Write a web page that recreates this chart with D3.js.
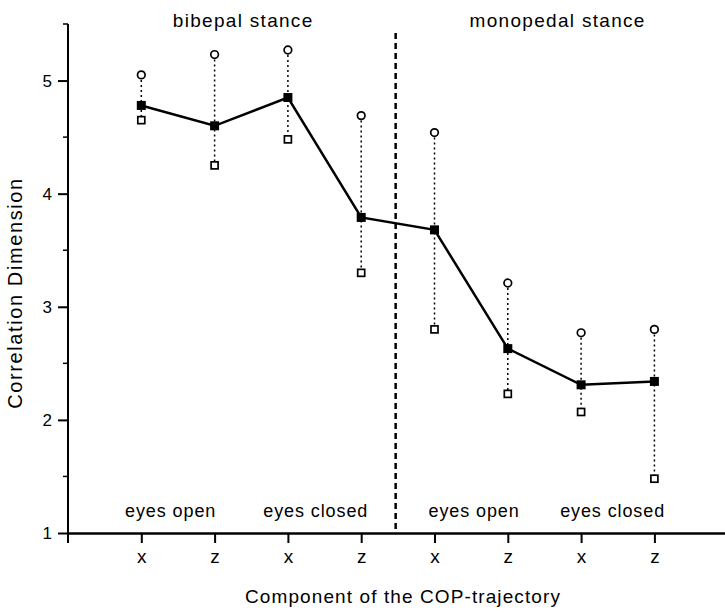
<html>
<head>
<script src="https://cdn.jsdelivr.net/npm/d3@7"></script>
<style>
  body { margin: 0; background: #fff; }
  svg { display: block; }
  text { font-family: "Liberation Sans", Arial, Helvetica, sans-serif; fill: #000; }
</style>
</head>
<body>
<div id="container"></div>
<script>
// values
var components = ["x", "z", "x", "z", "x", "z", "x", "z"];
var meanDim = [4.78, 4.60, 4.85, 3.79, 3.68, 2.63, 2.31, 2.34];
var maxDim  = [5.05, 5.23, 5.27, 4.69, 4.54, 3.21, 2.77, 2.80];
var minDim  = [4.65, 4.25, 4.48, 3.30, 2.80, 2.23, 2.07, 1.48];
var conditionLabels = ["eyes open", "eyes closed", "eyes open", "eyes closed"];
var stanceLabels = ["bibepal stance", "monopedal stance"];
var yTicks = [1, 2, 3, 4, 5];
var yMinorTicks = [1.5, 2.5, 3.5, 4.5, 5.5];

var width = 725, height = 615;

var svg = d3.select("#container").append("svg")
  .attr("width", width)
  .attr("height", height);

var data = components.map(function(c, i){
  return { idx: i + 1, comp: c, mean: meanDim[i], max: maxDim[i], min: minDim[i] };
});

var x = d3.scaleLinear().domain([0, 9]).range([68, 68 + 9 * 73.3]);
var y = d3.scaleLinear().domain([1, 5.5]).range([533, 24]);

// y axis
var yAxis = d3.axisLeft(y)
  .tickValues(yTicks)
  .tickFormat(d3.format("d"))
  .tickSize(10)
  .tickPadding(6);

var gy = svg.append("g")
  .attr("transform", "translate(" + x(0) + ",0)")
  .call(yAxis);
gy.select(".domain").attr("stroke-width", 2).attr("d", "M0," + y(5.5) + "V" + (y(1) + 10));
gy.selectAll(".tick line").attr("stroke-width", 2);
gy.selectAll(".tick text").style("font-size", "17px");

gy.selectAll(".minor").data(yMinorTicks).enter().append("line")
  .attr("class", "minor")
  .attr("x1", -5).attr("x2", 0)
  .attr("y1", function(d){ return y(d); })
  .attr("y2", function(d){ return y(d); })
  .attr("stroke", "#000").attr("stroke-width", 1.5);

// x axis
var xAxis = d3.axisBottom(x)
  .tickValues(d3.range(1, 9))
  .tickFormat(function(d){ return components[d - 1]; })
  .tickSize(10)
  .tickPadding(7)
  .tickSizeOuter(0);

var gx = svg.append("g")
  .attr("transform", "translate(0," + y(1) + ")")
  .call(xAxis);
gx.select(".domain").attr("stroke-width", 2.5);
gx.selectAll(".tick line").attr("stroke-width", 2);
gx.selectAll(".tick text").style("font-size", "19px");

// separator between stances
svg.append("line")
  .attr("x1", x(4.47)).attr("x2", x(4.47))
  .attr("y1", 33).attr("y2", y(1))
  .attr("stroke", "#000")
  .attr("stroke-width", 2.5)
  .attr("stroke-dasharray", "6,4");

// dotted ranges
svg.selectAll(".range").data(data).enter().append("line")
  .attr("class", "range")
  .attr("x1", function(d){ return x(d.idx); })
  .attr("x2", function(d){ return x(d.idx); })
  .attr("y1", function(d){ return y(d.max); })
  .attr("y2", function(d){ return y(d.min); })
  .attr("stroke", "#000")
  .attr("stroke-width", 1.5)
  .attr("stroke-dasharray", "2,3");

// mean line
var line = d3.line()
  .x(function(d){ return x(d.idx); })
  .y(function(d){ return y(d.mean); });

svg.append("path")
  .datum(data)
  .attr("d", line)
  .attr("fill", "none")
  .attr("stroke", "#000")
  .attr("stroke-width", 2.5);

// max circles
svg.selectAll(".maxpt").data(data).enter().append("circle")
  .attr("class", "maxpt")
  .attr("cx", function(d){ return x(d.idx); })
  .attr("cy", function(d){ return y(d.max); })
  .attr("r", 3.8)
  .attr("fill", "#fff")
  .attr("stroke", "#000")
  .attr("stroke-width", 1.7);

// min open squares
svg.selectAll(".minpt").data(data).enter().append("rect")
  .attr("class", "minpt")
  .attr("x", function(d){ return x(d.idx) - 3.5; })
  .attr("y", function(d){ return y(d.min) - 3.5; })
  .attr("width", 7).attr("height", 7)
  .attr("fill", "#fff")
  .attr("stroke", "#000")
  .attr("stroke-width", 1.7);

// mean filled squares
svg.selectAll(".meanpt").data(data).enter().append("rect")
  .attr("class", "meanpt")
  .attr("x", function(d){ return x(d.idx) - 4.5; })
  .attr("y", function(d){ return y(d.mean) - 4.5; })
  .attr("width", 9).attr("height", 9)
  .attr("fill", "#000");

// condition labels
var condPos = [1.4, 3.38, 5.54, 7.43];
svg.selectAll(".cond").data(conditionLabels).enter().append("text")
  .attr("class", "cond")
  .attr("x", function(d, i){ return x(condPos[i]); })
  .attr("y", 517)
  .attr("text-anchor", "middle")
  .style("font-size", "18px")
  .style("letter-spacing", "0.9px")
  .text(function(d){ return d; });

// stance labels
var stancePos = [2.39, 6.68];
svg.selectAll(".stance").data(stanceLabels).enter().append("text")
  .attr("class", "stance")
  .attr("x", function(d, i){ return x(stancePos[i]); })
  .attr("y", 27)
  .attr("text-anchor", "middle")
  .style("font-size", "19px")
  .style("letter-spacing", "1.3px")
  .text(function(d){ return d; });

// axis titles
svg.append("text")
  .attr("transform", "translate(22,293) rotate(-90)")
  .attr("text-anchor", "middle")
  .style("font-size", "20px")
  .style("letter-spacing", "1.6px")
  .text("Correlation Dimension");

svg.append("text")
  .attr("x", 403)
  .attr("y", 603)
  .attr("text-anchor", "middle")
  .style("font-size", "19px")
  .style("letter-spacing", "1.1px")
  .text("Component of the COP-trajectory");
</script>
</body>
</html>
